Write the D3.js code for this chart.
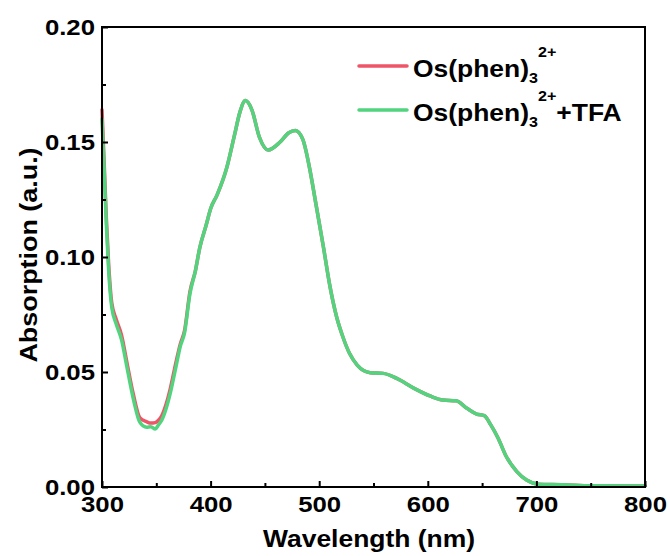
<!DOCTYPE html>
<html>
<head>
<meta charset="utf-8">
<style>
  body { margin: 0; background: #fff; }
  svg text { font-family: "Liberation Sans", Arial, Helvetica, sans-serif; font-weight: bold; fill: #000; }
  .axis path { display: none; }
  .axis line { stroke: #000; stroke-width: 2px; }
  .line { fill: none; stroke-width: 3.5px; stroke-linejoin: round; stroke-linecap: round; }
</style>
</head>
<body>
<script src="https://d3js.org/d3.v7.min.js"></script>
<script>

  // wavelength (nm)
  var wavelength = [300, 302, 304, 306, 309, 313, 318, 323, 329, 335, 341, 345, 349, 352, 355, 359, 363, 368, 372, 376,
                    381, 386, 390, 396, 400, 406, 415, 422, 427, 432, 438, 445, 453, 464, 472, 478, 485, 491, 497, 504,
                    510, 516, 522, 528, 535, 547, 559, 571, 587, 602, 614, 626, 636, 645, 652, 658, 665, 672, 682, 691,
                    702, 725, 750, 800];

  // Os(phen)3 2+
  var absOs = [0.164, 0.141, 0.117, 0.098, 0.080, 0.073, 0.066, 0.054, 0.040, 0.030, 0.0284, 0.0278, 0.0280, 0.029, 0.031, 0.036, 0.043, 0.054, 0.062, 0.068,
               0.085, 0.094, 0.104, 0.114, 0.121, 0.127, 0.139, 0.153, 0.163, 0.168, 0.164, 0.152, 0.1465, 0.150, 0.154, 0.155, 0.151, 0.139, 0.123, 0.104,
               0.087, 0.074, 0.065, 0.058, 0.053, 0.0497, 0.0494, 0.0473, 0.043, 0.0396, 0.0378, 0.0375, 0.0342, 0.0317, 0.031, 0.027, 0.021, 0.0135, 0.0067, 0.003,
               0.0012, 0.001, 0.0005, 0.0004];

  // Os(phen)3 2+ + TFA
  var absOsTFA = [0.160, 0.138, 0.114, 0.095, 0.078, 0.071, 0.064, 0.052, 0.038, 0.028, 0.026, 0.0262, 0.0252, 0.027, 0.029, 0.034, 0.041, 0.052, 0.061, 0.067,
                  0.084, 0.094, 0.104, 0.114, 0.121, 0.127, 0.139, 0.153, 0.163, 0.168, 0.164, 0.152, 0.1465, 0.150, 0.154, 0.155, 0.151, 0.139, 0.123, 0.104,
                  0.087, 0.074, 0.065, 0.058, 0.053, 0.0497, 0.0494, 0.0473, 0.043, 0.0396, 0.0378, 0.0375, 0.0342, 0.0317, 0.031, 0.027, 0.021, 0.0135, 0.0067, 0.003,
                  0.0012, 0.001, 0.0005, 0.0004];

  var xTicks = [300, 400, 500, 600, 700, 800],
      xMinor = [350, 450, 550, 650, 750],
      yTicks = [0, 0.05, 0.10, 0.15, 0.20],
      yMinor = [0.025, 0.075, 0.125, 0.175];

  var margin = { top: 27, left: 102 },
      width = 543,
      height = 460,
      stretch = 1.17;

  var x = d3.scaleLinear().domain([300, 800]).range([0, width]);
  var y = d3.scaleLinear().domain([0, 0.2]).range([height, 0]);

  var svg = d3.select("body").append("svg")
      .attr("width", 670)
      .attr("height", 556);

  var g = svg.append("g")
      .attr("transform", "translate(" + margin.left + "," + margin.top + ")");

  var line = d3.line()
      .x(function(d) { return x(d[0]); })
      .y(function(d) { return y(d[1]); })
      .curve(d3.curveMonotoneX);

  g.append("path")
      .datum(d3.zip(wavelength, absOs))
      .attr("class", "line")
      .attr("stroke", "#ef5568")
      .attr("d", line);

  g.append("path")
      .datum(d3.zip(wavelength, absOsTFA))
      .attr("class", "line")
      .attr("stroke", "#52d47f")
      .attr("d", line);

  // axes: ticks point inward
  var xAxis = g.append("g")
      .attr("class", "axis")
      .attr("transform", "translate(0," + height + ")")
      .call(d3.axisBottom(x).tickValues(xTicks).tickSize(-6).tickPadding(0));
  xAxis.selectAll("text")
      .attr("y", 25).attr("dy", 0)
      .style("font-size", "22px")
      .attr("transform", "scale(" + stretch + ",1)");

  g.append("g")
      .attr("class", "axis")
      .attr("transform", "translate(0," + height + ")")
      .call(d3.axisBottom(x).tickValues(xMinor).tickSize(-4).tickFormat(""));

  var yAxis = g.append("g")
      .attr("class", "axis")
      .call(d3.axisLeft(y).tickValues(yTicks).tickSize(-6).tickPadding(0).tickFormat(d3.format(".2f")));
  yAxis.selectAll("text")
      .attr("x", -6)
      .attr("dy", "0.34em")
      .style("font-size", "22px")
      .attr("transform", "scale(" + stretch + ",1)");

  g.append("g")
      .attr("class", "axis")
      .call(d3.axisLeft(y).tickValues(yMinor).tickSize(-4).tickFormat(""));

  // frame
  g.append("rect")
      .attr("width", width)
      .attr("height", height)
      .attr("fill", "none")
      .attr("stroke", "#000")
      .attr("stroke-width", 2);

  // axis titles
  svg.append("text")
      .attr("transform", "translate(369,547) scale(1.15,1)")
      .attr("text-anchor", "middle")
      .style("font-size", "23px")
      .text("Wavelength (nm)");

  svg.append("text")
      .attr("transform", "translate(37,255) rotate(-90) scale(1.17,1)")
      .attr("text-anchor", "middle")
      .style("font-size", "23px")
      .text("Absorption (a.u.)");

  // legend
  var legendItems = [
    { color: "#ef5568", extra: "" },
    { color: "#52d47f", extra: "+TFA" }
  ];

  var legend = svg.selectAll(".legend")
      .data(legendItems)
      .enter().append("g")
      .attr("class", "legend")
      .attr("transform", function(d, i) { return "translate(0," + (i * 44) + ")"; });

  legend.append("line")
      .attr("x1", 359).attr("x2", 407)
      .attr("y1", 66).attr("y2", 66)
      .attr("stroke", function(d) { return d.color; })
      .attr("stroke-width", 3.5)
      .attr("stroke-linecap", "round");

  var lt = legend.append("text")
      .attr("transform", "translate(413,77) scale(1.15,1)")
      .style("font-size", "23px");
  lt.append("tspan").text("Os(phen)");
  lt.append("tspan").attr("dy", 6).style("font-size", "14px").text("3");
  lt.append("tspan").attr("dy", -26).style("font-size", "14px").text("2+");
  lt.append("tspan").attr("dy", 20).text(function(d) { return d.extra; });

</script>
</body>
</html>
